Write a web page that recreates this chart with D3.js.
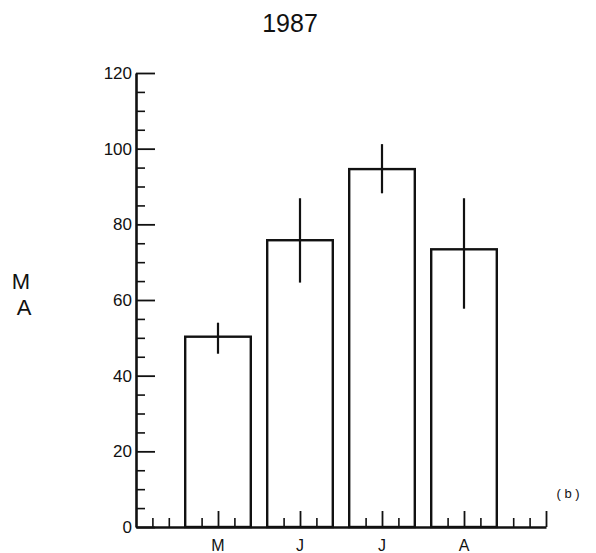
<!DOCTYPE html>
<html>
<head>
<meta charset="utf-8">
<script src="https://cdn.jsdelivr.net/npm/d3@7"></script>
<style>
  html, body { margin: 0; padding: 0; background: #fff; }
  svg { display: block; }
  text { font-family: "Liberation Sans", "DejaVu Sans", sans-serif; fill: #111; }
</style>
</head>
<body>
<svg id="chart" width="596" height="553"></svg>
<script>
// ---- data ----
const title = "1987";
const categories = ["M", "J", "J", "A"];
const means = [50.3, 75.8, 94.6, 73.4];
const errHigh = [54.0, 86.9, 101.2, 86.9];
const errLow = [45.8, 64.6, 88.2, 57.7];
const yMajorTicks = [0, 20, 40, 60, 80, 100, 120];
const yMinorTicks = d3.range(0, 121, 5).filter(v => v % 20 !== 0);
const yLabelLines = ["M", "A"];
const panelLabel = "( b )";

// ---- layout ----
const svg = d3.select("#chart");
const x0 = 136, x1 = 546, yBase = 527, yTop = 73;
const units = 25;               // x axis divided in tick units
const barStartUnit = i => 3 + 5 * i;
const barUnits = 4;

const x = d3.scaleLinear().domain([0, units]).range([x0, x1]);
const y = d3.scaleLinear().domain([0, 120]).range([yBase, yTop]);

const ink = "#111";

// title
svg.append("text").attr("x", 290).attr("y", 32)
  .attr("text-anchor", "middle").style("font-size", "25px").text(title);

// y label
yLabelLines.forEach((t, i) => {
  svg.append("text").attr("x", 21 + i * 3).attr("y", 289 + i * 26)
    .attr("text-anchor", "middle").style("font-size", "22px").text(t);
});

// panel label
svg.append("text").attr("x", 568).attr("y", 498)
  .attr("text-anchor", "middle").style("font-size", "13px").text(panelLabel);

// bars
const bars = svg.append("g");
categories.forEach((c, i) => {
  const xs = x(barStartUnit(i)), xe = x(barStartUnit(i) + barUnits);
  bars.append("rect")
    .attr("x", xs).attr("y", y(means[i]))
    .attr("width", xe - xs).attr("height", y(0) - y(means[i]))
    .attr("fill", "#fff").attr("stroke", ink).attr("stroke-width", 2.4);
});

// error bars
categories.forEach((c, i) => {
  const cx = x(barStartUnit(i) + barUnits / 2);
  svg.append("line")
    .attr("x1", cx).attr("x2", cx)
    .attr("y1", y(errLow[i])).attr("y2", y(errHigh[i]))
    .attr("stroke", ink).attr("stroke-width", 2.2);
});

// y axis: minor ticks
const yMinor = d3.axisLeft(y).tickValues(yMinorTicks).tickSize(-9).tickFormat("");
const gMinor = svg.append("g").attr("transform", `translate(${x0},0)`).call(yMinor);
gMinor.select(".domain").remove();
gMinor.selectAll(".tick line").attr("stroke", ink).attr("stroke-width", 1.6);

// y axis: major ticks + labels
const yMajor = d3.axisLeft(y).tickValues(yMajorTicks).tickSizeInner(-19).tickSizeOuter(0).tickPadding(4);
const gMajor = svg.append("g").attr("transform", `translate(${x0},0)`).call(yMajor);
gMajor.select(".domain").attr("stroke", ink).attr("stroke-width", 2.6);
gMajor.selectAll(".tick line").attr("stroke", ink).attr("stroke-width", 1.8);
gMajor.selectAll(".tick text").style("font-size", "17px")
  .style("font-family", '"Liberation Sans", "DejaVu Sans", sans-serif').attr("fill", ink);

// x axis ticks
const shortTicks = [1, 2, 23, 24];
const tallTicks = [units];
categories.forEach((c, i) => {
  const s = barStartUnit(i);
  shortTicks.push(s + 1, s + 3);
  tallTicks.push(s + 2);
});
const xShort = d3.axisBottom(x).tickValues(shortTicks).tickSize(-9).tickFormat("");
const gxs = svg.append("g").attr("transform", `translate(0,${yBase})`).call(xShort);
gxs.select(".domain").remove();
gxs.selectAll(".tick line").attr("stroke", ink).attr("stroke-width", 1.6);

const xTall = d3.axisBottom(x).tickValues(tallTicks).tickSizeInner(-16).tickSizeOuter(0).tickFormat("");
const gxt = svg.append("g").attr("transform", `translate(0,${yBase})`).call(xTall);
gxt.select(".domain").attr("stroke", ink).attr("stroke-width", 2.4);
gxt.selectAll(".tick line").attr("stroke", ink).attr("stroke-width", 1.8);

// category labels
categories.forEach((c, i) => {
  svg.append("text")
    .attr("x", x(barStartUnit(i) + barUnits / 2))
    .attr("y", 551)
    .attr("text-anchor", "middle").style("font-size", "16px").text(c);
});
</script>
</body>
</html>
